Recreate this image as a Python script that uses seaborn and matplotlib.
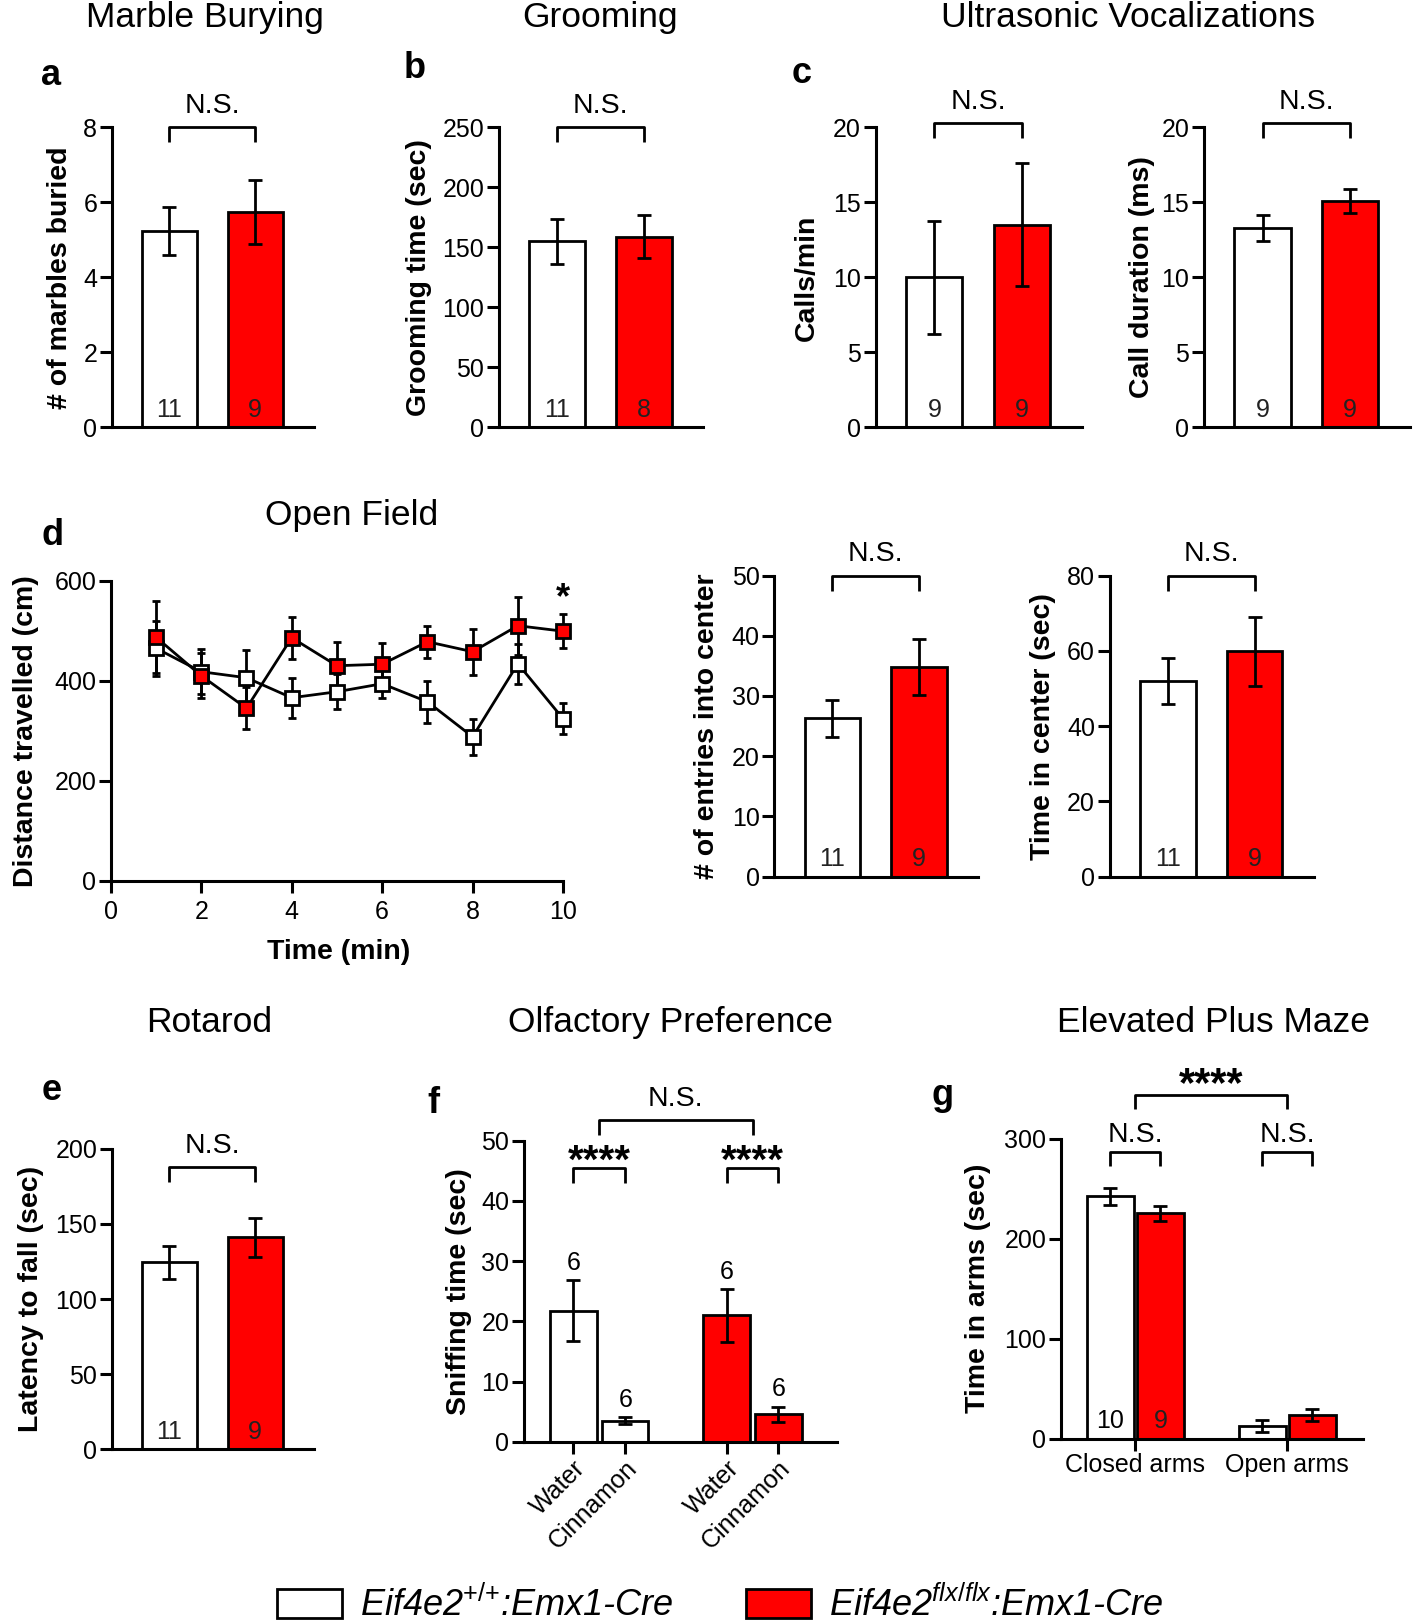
import numpy as np
import pandas as pd
import matplotlib
matplotlib.use('Agg')
from matplotlib import pyplot as plt
from matplotlib.patches import Patch
import seaborn as sns

# ---------------- data (mean, SEM, n) ----------------
GENOTYPES = ['WT', 'KO']

marble_mean = [5.24, 5.74]
marble_sem = [0.63, 0.86]
marble_n = ['11', '9']

groom_mean = [155, 159]
groom_sem = [18.5, 18]
groom_n = ['11', '8']

calls_mean = [10.0, 13.5]
calls_sem = [3.75, 4.1]
duration_mean = [13.3, 15.1]
duration_sem = [0.85, 0.8]
usv_n = ['9', '9']

of_minutes = [1, 2, 3, 4, 5, 6, 7, 8, 9, 10]
of_wt_mean = [465, 418, 406, 366, 378, 394, 358, 288, 434, 324]
of_wt_sem = [55, 45, 55, 40, 35, 28, 42, 36, 40, 31]
of_ko_mean = [487, 410, 345, 486, 430, 433, 478, 458, 510, 499]
of_ko_sem = [72, 45, 42, 42, 47, 42, 32, 46, 58, 34]

entries_mean = [26.3, 34.8]
entries_sem = [3.1, 4.6]
center_mean = [52.0, 59.9]
center_sem = [6.0, 9.2]
of_n = ['11', '9']

rotarod_mean = [124.5, 141]
rotarod_sem = [11, 13]
rotarod_n = ['11', '9']

odor_labels = ['Water', 'Cinnamon', 'Water', 'Cinnamon']
odor_geno = ['WT', 'WT', 'KO', 'KO']
odor_pos = [0, 1, 2.96, 3.96]
sniff_mean = [21.8, 3.5, 21.0, 4.6]
sniff_sem = [5.0, 0.6, 4.4, 1.25]
sniff_n = ['6', '6', '6', '6']

epm_arms = ['Closed arms', 'Open arms']
epm_wt_mean = [242.5, 12.5]
epm_wt_sem = [8.5, 6]
epm_ko_mean = [225.5, 24]
epm_ko_sem = [7.5, 6]
epm_n = ['10', '9']

LEGEND_LABELS = ['Eif4e2$^{{+}/{+}}$:Emx1-Cre', 'Eif4e2$^{flx/flx}$:Emx1-Cre']

WHITE = 'white'
RED = '#FF0000'

# ---------------- style ----------------
sns.set_theme(style='ticks')
plt.rcParams['font.family'] = ['Liberation Sans', 'DejaVu Sans']
plt.rcParams['mathtext.fontset'] = 'custom'
plt.rcParams['mathtext.it'] = 'Liberation Sans:italic'
plt.rcParams['mathtext.rm'] = 'Liberation Sans'
plt.rcParams['text.color'] = 'black'
plt.rcParams['axes.labelcolor'] = 'black'

W, H = 1368, 1568  # layout grid in reference pixels
fig = plt.figure(figsize=(14.16, 16.23), dpi=100)


def box(l, t, r, b):
    return fig.add_axes([l / W, 1 - b / H, (r - l) / W, (b - t) / H])


def style(ax):
    sns.despine(ax=ax)
    for s in ['left', 'bottom']:
        ax.spines[s].set_linewidth(2.2)
        ax.spines[s].set_color('black')
    ax.tick_params(width=2.2, length=8.5, labelsize=18, colors='black', pad=2)


def ylab(ax, text, x_px):
    ax.set_ylabel(text, fontsize=20.5, fontweight='bold', va='center')
    pos = ax.get_position()
    ax.yaxis.set_label_coords((x_px / W - pos.x0) / pos.width, 0.5)


def bracket(ax, x1, x2, y, leg, text, ty, size=20.5, weight='normal', va='baseline'):
    ax.plot([x1, x1, x2, x2], [y - leg, y, y, y - leg], color='black', lw=2,
            clip_on=False, solid_capstyle='butt')
    ax.text((x1 + x2) / 2, ty, text, ha='center', va=va, fontsize=size,
            fontweight=weight, clip_on=False)


def two_bars(ax, means, sems, ns, ymax, yticks, br=1.0):
    df = pd.DataFrame({'g': GENOTYPES, 'v': means})
    sns.barplot(data=df, x='g', y='v', hue='g', palette=[WHITE, RED], width=0.64,
                saturation=1, edgecolor='black', linewidth=2, errorbar=None,
                legend=False, ax=ax)
    ax.errorbar([0, 1], means, yerr=sems, fmt='none', ecolor='black',
                elinewidth=2, capsize=5, capthick=2, zorder=5)
    ax.set_xlim(-0.67, 1.68)
    ax.set_ylim(0, ymax)
    ax.set_yticks(yticks)
    ax.set_xticks([])
    ax.set_xlabel('')
    style(ax)
    for i, n in enumerate(ns):
        ax.text(i, 0.035 * ymax, n, ha='center', va='baseline', fontsize=18,
                color='#222222')
    bracket(ax, 0, 1, br * ymax, 0.05 * ymax, 'N.S.', (br + 0.047) * ymax)


# ---------------- a: marble burying ----------------
ax = box(108, 123, 303, 413)
two_bars(ax, marble_mean, marble_sem, marble_n, 8, [0, 2, 4, 6, 8])
ylab(ax, '# of marbles buried', 58)

# ---------------- b: grooming ----------------
ax = box(482, 123, 679, 413)
two_bars(ax, groom_mean, groom_sem, groom_n, 250, [0, 50, 100, 150, 200, 250])
ylab(ax, 'Grooming time (sec)', 405)

# ---------------- c: USV ----------------
ax = box(846, 123, 1045, 413)
two_bars(ax, calls_mean, calls_sem, usv_n, 20, [0, 5, 10, 15, 20], br=1.013)
ylab(ax, 'Calls/min', 780)

ax = box(1163, 123, 1362, 413)
two_bars(ax, duration_mean, duration_sem, usv_n, 20, [0, 5, 10, 15, 20], br=1.013)
ylab(ax, 'Call duration (ms)', 1103)

# ---------------- d: open field ----------------
ax = box(107, 561, 544, 851)
for mean, sem in [(of_wt_mean, of_wt_sem), (of_ko_mean, of_ko_sem)]:
    eb = ax.errorbar(of_minutes, mean, yerr=sem, fmt='none', ecolor='black',
                     elinewidth=2, capsize=3, capthick=2, zorder=2)
    for art in eb.lines[1] + eb.lines[2]:
        art.set_clip_on(False)
sns.lineplot(x=of_minutes, y=of_wt_mean, color='black', marker='s', markersize=10.5,
             markerfacecolor=WHITE, markeredgecolor='black', markeredgewidth=2,
             linewidth=2, ax=ax, zorder=3, clip_on=False)
sns.lineplot(x=of_minutes, y=of_ko_mean, color='black', marker='s', markersize=10.5,
             markerfacecolor=RED, markeredgecolor='black', markeredgewidth=2,
             linewidth=2, ax=ax, zorder=4, clip_on=False)
ax.set_xlim(0, 10)
ax.set_ylim(0, 600)
ax.set_xticks([0, 2, 4, 6, 8, 10])
ax.set_yticks([0, 200, 400, 600])
style(ax)
ax.tick_params(axis='x', pad=5)
ax.set_xlabel('Time (min)', fontsize=20.5, fontweight='bold')
ax.xaxis.set_label_coords(0.503, -0.195)
ylab(ax, 'Distance travelled (cm)', 25)
ax.text(10, 600, '*', ha='center', va='top', fontsize=26, fontweight='bold',
        clip_on=False)

ax = box(748, 556, 945, 847)
two_bars(ax, entries_mean, entries_sem, of_n, 50, [0, 10, 20, 30, 40, 50])
ylab(ax, '# of entries into center', 683)

ax = box(1072, 556, 1269, 847)
two_bars(ax, center_mean, center_sem, of_n, 80, [0, 20, 40, 60, 80])
ylab(ax, 'Time in center (sec)', 1008)

# ---------------- e: rotarod ----------------
ax = box(108, 1110, 303, 1400)
two_bars(ax, rotarod_mean, rotarod_sem, rotarod_n, 200, [0, 50, 100, 150, 200], br=0.94)
ylab(ax, 'Latency to fall (sec)', 30)

# ---------------- f: olfactory preference ----------------
ax = box(506, 1102, 809, 1393)
df_f = pd.DataFrame({'pos': odor_pos, 'v': sniff_mean, 'g': odor_geno})
sns.barplot(data=df_f, x='pos', y='v', hue='g', palette=[WHITE, RED],
            native_scale=True, dodge=False, width=0.9, saturation=1,
            edgecolor='black', linewidth=2, errorbar=None, legend=False, ax=ax)
ax.errorbar(odor_pos, sniff_mean, yerr=sniff_sem, fmt='none', ecolor='black',
            elinewidth=2, capsize=5, capthick=2, zorder=5)
ax.set_xlim(-0.96, 5.1)
ax.set_ylim(0, 50)
ax.set_yticks([0, 10, 20, 30, 40, 50])
ax.set_xticks(odor_pos)
ax.set_xticklabels(odor_labels, rotation=45, ha='right', rotation_mode='anchor')
ax.set_xlabel('')
style(ax)
for p, m, s, n in zip(odor_pos, sniff_mean, sniff_sem, sniff_n):
    ax.text(p, m + s + 1.7, n, ha='center', va='baseline', fontsize=18)
bracket(ax, 0, 1, 45.4, 2.4, '****', 49.6, size=29, weight='bold', va='top')
bracket(ax, 2.96, 3.96, 45.4, 2.4, '****', 49.6, size=29, weight='bold', va='top')
bracket(ax, 0.5, 3.46, 53.5, 2.5, 'N.S.', 55.7)
ylab(ax, 'Sniffing time (sec)', 443)

# ---------------- g: elevated plus maze ----------------
ax = box(1025, 1100, 1317, 1390)
df_g = pd.DataFrame({'arm': epm_arms * 2, 'v': epm_wt_mean + epm_ko_mean,
                     'g': ['WT'] * 2 + ['KO'] * 2})
sns.barplot(data=df_g, x='arm', y='v', hue='g', palette=[WHITE, RED], width=0.66,
            gap=0.07, saturation=1, edgecolor='black', linewidth=2, errorbar=None,
            legend=False, ax=ax)
off = 0.165
ax.errorbar([0 - off, 1 - off], epm_wt_mean, yerr=epm_wt_sem, fmt='none',
            ecolor='black', elinewidth=2, capsize=5, capthick=2, zorder=5)
ax.errorbar([0 + off, 1 + off], epm_ko_mean, yerr=epm_ko_sem, fmt='none',
            ecolor='black', elinewidth=2, capsize=5, capthick=2, zorder=5)
ax.set_xlim(-0.49, 1.5)
ax.set_ylim(0, 300)
ax.set_yticks([0, 100, 200, 300])
ax.set_xlabel('')
style(ax)
ax.text(-off, 0.035 * 300, epm_n[0], ha='center', va='baseline', fontsize=18)
ax.text(off, 0.035 * 300, epm_n[1], ha='center', va='baseline', fontsize=18,
        color='#222222')
bracket(ax, -off, off, 287, 14, 'N.S.', 296.7)
bracket(ax, 1 - off, 1 + off, 287, 14, 'N.S.', 296.7)
bracket(ax, 0, 1, 344, 14, '****', 373, size=30, weight='bold', va='top')
ylab(ax, 'Time in arms (sec)', 945)

# ---------------- titles and panel letters ----------------
titles = [('Marble Burying', 198, 26), ('Grooming', 580, 26),
          ('Ultrasonic Vocalizations', 1090, 26), ('Open Field', 340, 507),
          ('Rotarod', 202, 997), ('Olfactory Preference', 648, 997),
          ('Elevated Plus Maze', 1172, 997)]
for t, x, y in titles:
    fig.text(x / W, 1 - y / H, t, ha='center', va='baseline', fontsize=25.5)

letters = [('a', 40, 82), ('b', 390, 75), ('c', 765, 80), ('d', 40, 527),
           ('e', 40, 1063), ('f', 413, 1075), ('g', 900, 1068)]
for t, x, y in letters:
    fig.text(x / W, 1 - y / H, t, ha='left', va='baseline', fontsize=26,
             fontweight='bold')

# ---------------- legend ----------------
handles = [Patch(facecolor=WHITE, edgecolor='black', linewidth=2),
           Patch(facecolor=RED, edgecolor='black', linewidth=2)]
fig.legend(handles, LEGEND_LABELS, loc='center', bbox_to_anchor=(0.509, 0.011),
           ncol=2, frameon=False, prop={'style': 'italic', 'size': 26},
           handlelength=1.8, handleheight=0.85, handletextpad=0.5,
           columnspacing=2.0)

fig.savefig('out.png', dpi=100)
